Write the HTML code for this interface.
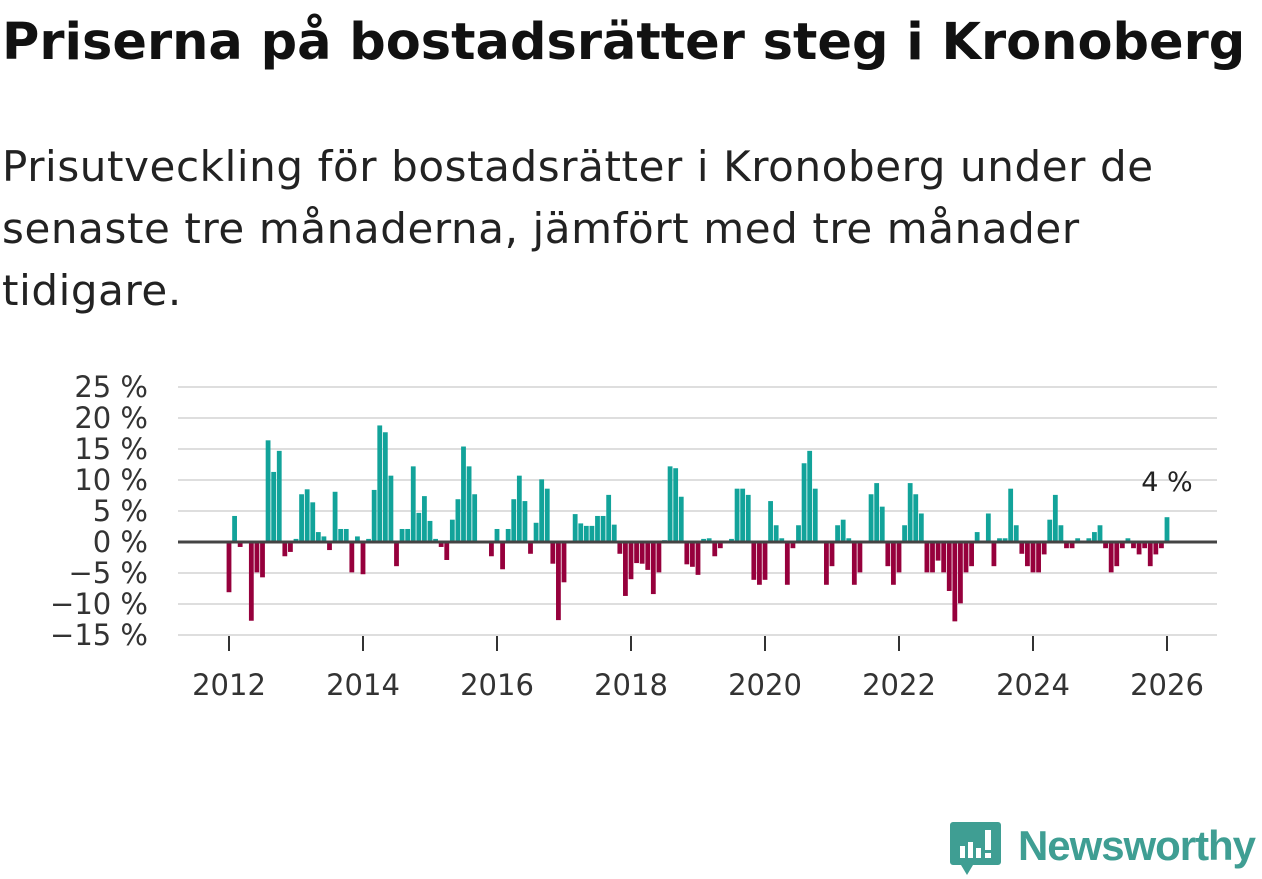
<!DOCTYPE html>
<html><head><meta charset="utf-8"><style>
body{margin:0;width:1262px;height:879px;background:#fff;overflow:hidden;font-family:"DejaVu Sans","Liberation Sans",sans-serif;}
#title{position:absolute;left:2px;top:10px;font-size:51px;font-weight:bold;color:#111;margin:0;white-space:nowrap;line-height:66px;letter-spacing:0px}
#sub{position:absolute;left:2px;top:136px;font-size:42px;line-height:62px;color:#222;margin:0;white-space:nowrap;letter-spacing:0.6px}
svg{position:absolute;left:0;top:0}
</style></head><body>
<h1 id="title">Priserna på bostadsrätter steg i Kronoberg</h1>
<p id="sub">Prisutveckling för bostadsrätter i Kronoberg under de<br>senaste tre månaderna, jämfört med tre månader<br>tidigare.</p>
<svg id="chart" width="1262" height="879"></svg>
<script>
const startYear = 2012;
const values = [
-8.1,4.2,-0.8,0,-12.7,-4.9,-5.7,16.4,11.3,14.7,-2.3,-1.6,0.5,7.7,8.5,6.4,1.6,0.9,-1.3,8.1,2.1,2.1,-4.9,0.9,-5.2,0.5,8.4,18.8,17.7,
10.7,-3.9,2.1,2.1,12.2,4.7,7.4,3.4,0.5,-0.8,-2.9,3.6,6.9,15.4,12.2,7.7,0.2,0,-2.3,2.1,-4.4,2.1,6.9,10.7,6.6,-1.9,3.1,10.1,
8.6,-3.5,-12.6,-6.5,0,4.5,3.0,2.6,2.6,4.2,4.2,7.6,2.8,-1.9,-8.7,-6.0,-3.4,-3.5,-4.5,-8.4,-4.9,0.3,12.2,11.9,7.3,-3.6,-4.0,-5.3,0.5,
0.6,-2.3,-1.0,0,0.5,8.6,8.6,7.6,-6.1,-6.9,-6.1,6.6,2.7,0.6,-6.9,-1.0,2.7,12.7,14.7,8.6,0,-6.9,-3.9,2.7,3.6,0.6,-6.9,-4.9,
0,7.7,9.5,5.7,-3.9,-6.9,-4.9,2.7,9.5,7.7,4.6,-4.9,-4.9,-3.0,-4.9,-7.9,-12.8,-9.9,-4.9,-3.9,1.6,0,4.6,-3.9,0.6,0.6,8.6,2.7,-1.9,
-3.9,-4.9,-4.9,-2.0,3.6,7.6,2.7,-1.0,-1.0,0.6,0,0.6,1.6,2.7,-1.0,-4.9,-3.9,-1.0,0.6,-1.0,-2.0,-1.0,-3.9,-2.0,-1.0,4
];
const yTicks = [25,20,15,10,5,0,-5,-10,-15];
const xTicks = [2012,2014,2016,2018,2020,2022,2024,2026];
const lastLabel = "4 %";

const svg = document.getElementById('chart');
const NS = 'http://www.w3.org/2000/svg';
const FONT = 'DejaVu Sans, Liberation Sans, sans-serif';
const y = v => 542 - v * 6.2;
const x = m => 229 + m * (938 / 168);
function mk(tag, attrs){const e=document.createElementNS(NS,tag);for(const k in attrs)e.setAttribute(k,attrs[k]);svg.appendChild(e);return e;}
yTicks.forEach(t=>{
  if(t!==0){const g=mk('line',{x1:178,x2:1217,y1:y(t),y2:y(t),stroke:'#dedede','stroke-width':2});
  
  }
  const l=mk('text',{x:148,y:y(t)+10,'text-anchor':'end','font-size':29,fill:'#333','font-family':FONT});
  l.textContent=(t<0?'\u2212'+(-t):t)+' %';
  
  
});
xTicks.forEach(t=>{
  const px=x((t-startYear)*12);
  const tk=mk('line',{x1:px,x2:px,y1:636,y2:651,stroke:'#333','stroke-width':2});
  
  
  const l=mk('text',{x:px,y:695,'text-anchor':'middle','font-size':29,fill:'#333','font-family':FONT});
  l.textContent=t;
  
  
});
values.forEach((v,i)=>{
  if(v===0) return;
  const r=mk('rect',{x:x(i)-2.4,width:4.8,y:Math.min(y(v),y(0)),height:Math.abs(y(v)-y(0)),fill:v>0?'#12a39a':'#96003c'});
  
  
});
const zl=mk('line',{x1:178,x2:1217,y1:y(0),y2:y(0),stroke:'#444','stroke-width':3});


const ll=mk('text',{x:x(values.length-1),y:y(values[values.length-1])-26,'text-anchor':'middle','font-size':27,fill:'#222','font-family':FONT});
ll.textContent=lastLabel;


</script>
<svg width="1262" height="879" style="pointer-events:none">
  <path d="M953 822 h45 a3 3 0 0 1 3 3 v37 a3 3 0 0 1 -3 3 h-25 l-6 10 l-6 -10 h-8 a3 3 0 0 1 -3 -3 v-37 a3 3 0 0 1 3 -3z" fill="#3f9e93"/>
  <rect x="960" y="846" width="5" height="12" fill="#fff"/>
  <rect x="968" y="842" width="5" height="16" fill="#fff"/>
  <rect x="976" y="848" width="5" height="10" fill="#fff"/>
  <rect x="985" y="830" width="6" height="20" fill="#fff"/>
  <rect x="985" y="853" width="6" height="5" fill="#fff"/>
  <text x="1018" y="860" font-size="42" font-weight="bold" fill="#3f9e93" font-family="Liberation Sans, DejaVu Sans, sans-serif" textLength="238" lengthAdjust="spacing">Newsworthy</text>
</svg>
</body></html>
